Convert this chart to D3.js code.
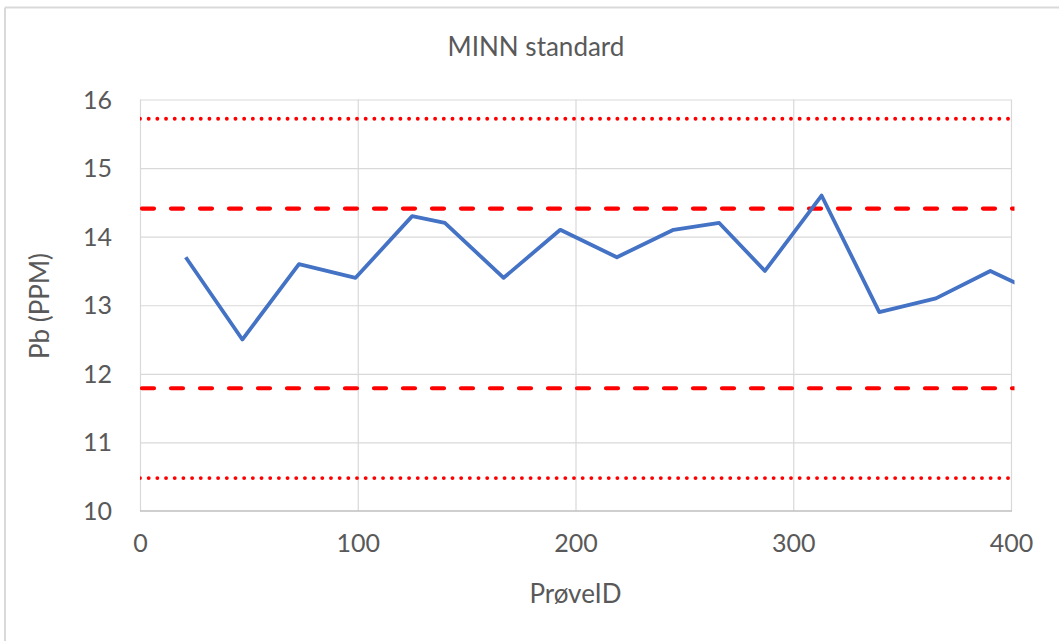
<!DOCTYPE html>
<html>
<head>
<meta charset="utf-8">
<script src="https://cdn.jsdelivr.net/npm/d3@7"></script>
<style>
  html, body { margin: 0; padding: 0; background: #fff; }
  svg { display: block; font-family: Lato, "Open Sans", sans-serif; }
</style>
</head>
<body>
<svg id="chart" width="1059" height="641"></svg>
<script>
// Data
const proveID = [21, 47, 73, 99, 125, 140, 167, 193, 219, 245, 266, 287, 313, 339.5, 365.5, 390.5, 416];
const pb      = [13.7, 12.5, 13.6, 13.4, 14.3, 14.2, 13.4, 14.1, 13.7, 14.1, 14.2, 13.5, 14.6, 12.9, 13.1, 13.5, 13.12];
const centerValue = 13.1;
const dashedLimits = [14.41, 11.79];   // ±10%
const dottedLimits = [15.72, 10.48];   // ±20%
const xTicks = [0, 100, 200, 300, 400];
const yTicks = [10, 11, 12, 13, 14, 15, 16];
const title = "MINN standard";
const xTitle = "PrøveID";
const yTitle = "Pb (PPM)";

(function () {
const svg = d3.select("#chart");
const W = 1059, H = 641;
const pLeft = 140, pRight = 1011, pTop = 99.5, pBottom = 511;

// outer frame (only top/left visible in reference)
svg.append("line").attr("x1", 5).attr("x2", W).attr("y1", 7.5).attr("y2", 7.5)
  .attr("stroke", "#D9D9D9").attr("stroke-width", 2);
svg.append("line").attr("x1", 5).attr("x2", 5).attr("y1", 7.5).attr("y2", H)
  .attr("stroke", "#D9D9D9").attr("stroke-width", 2);

const x = d3.scaleLinear().domain([0, 400]).range([pLeft, pRight]);
const y = d3.scaleLinear().domain([10, 16]).range([pBottom, pTop]);

// gridlines
const gy = svg.append("g").attr("transform", `translate(${pLeft},0)`)
  .call(d3.axisLeft(y).tickValues(yTicks.filter(d => d !== 10)).tickSize(-(pRight - pLeft)).tickFormat(""));
gy.select(".domain").remove();
gy.selectAll("line").attr("stroke", "#D9D9D9").attr("stroke-width", 1.2);

const gx = svg.append("g").attr("transform", `translate(0,${pBottom})`)
  .call(d3.axisBottom(x).tickValues(xTicks).tickSize(-(pBottom - pTop)).tickFormat(""));
gx.select(".domain").remove();
gx.selectAll("line").attr("stroke", "#D9D9D9").attr("stroke-width", 1.2);

// x axis line
svg.append("line").attr("x1", pLeft).attr("x2", pRight + 1).attr("y1", pBottom).attr("y2", pBottom)
  .attr("stroke", "#BFBFBF").attr("stroke-width", 1.5);

// tick labels
const ya = svg.append("g").attr("transform", `translate(${pLeft},0)`)
  .call(d3.axisLeft(y).tickValues(yTicks).tickSize(0).tickPadding(28).tickFormat(d3.format("d")));
ya.select(".domain").remove();
ya.selectAll("text").attr("fill", "#595959").style("font-size", "25px")
  .style("font-family", "Lato, sans-serif").attr("dy", "0.34em");

const xa = svg.append("g").attr("transform", `translate(0,${pBottom})`)
  .call(d3.axisBottom(x).tickValues(xTicks).tickSize(0).tickPadding(38).tickFormat(d3.format("d")));
xa.select(".domain").remove();
xa.selectAll("text").attr("fill", "#595959").style("font-size", "25px")
  .style("font-family", "Lato, sans-serif").attr("dy", "0.1em");

// clip
svg.append("clipPath").attr("id", "clip").append("rect")
  .attr("x", pLeft).attr("y", 0).attr("width", 1014.5 - pLeft).attr("height", H);

const plot = svg.append("g").attr("clip-path", "url(#clip)");
const xEnd = x.invert(1014.5);

plot.selectAll("line.dotted").data(dottedLimits).enter().append("line")
  .attr("class", "dotted")
  .attr("x1", x(0)).attr("x2", x(xEnd)).attr("y1", d => y(d)).attr("y2", d => y(d))
  .attr("stroke", "#FF0000").attr("stroke-width", 3.9).attr("stroke-linecap", "round")
  .attr("stroke-dasharray", "0 8.68");

plot.selectAll("line.dashed").data(dashedLimits).enter().append("line")
  .attr("class", "dashed")
  .attr("x1", x(0) + 2).attr("x2", x(xEnd)).attr("y1", d => y(d)).attr("y2", d => y(d))
  .attr("stroke", "#FF0000").attr("stroke-width", 4.2).attr("stroke-linecap", "round")
  .attr("stroke-dasharray", "12 17");

const pts = proveID.map((d, i) => [d, pb[i]]);
plot.append("path").datum(pts)
  .attr("fill", "none").attr("stroke", "#4472C4").attr("stroke-width", 3.8)
  .attr("stroke-linejoin", "round").attr("stroke-linecap", "butt")
  .attr("d", d3.line().x(d => x(d[0])).y(d => y(d[1])));

// titles
svg.append("text").attr("x", 536).attr("y", 46).attr("text-anchor", "middle")
  .attr("dominant-baseline", "central").attr("fill", "#595959")
  .style("font-size", "26px").text(title);

svg.append("text").attr("x", (pLeft + pRight) / 2).attr("y", 593).attr("text-anchor", "middle")
  .attr("dominant-baseline", "central").attr("fill", "#595959")
  .style("font-size", "26px").text(xTitle);

svg.append("text").attr("transform", `translate(39,306) rotate(-90)`).attr("text-anchor", "middle")
  .attr("dominant-baseline", "central").attr("fill", "#595959")
  .style("font-size", "26px").text(yTitle);
})();
</script>
</body>
</html>
